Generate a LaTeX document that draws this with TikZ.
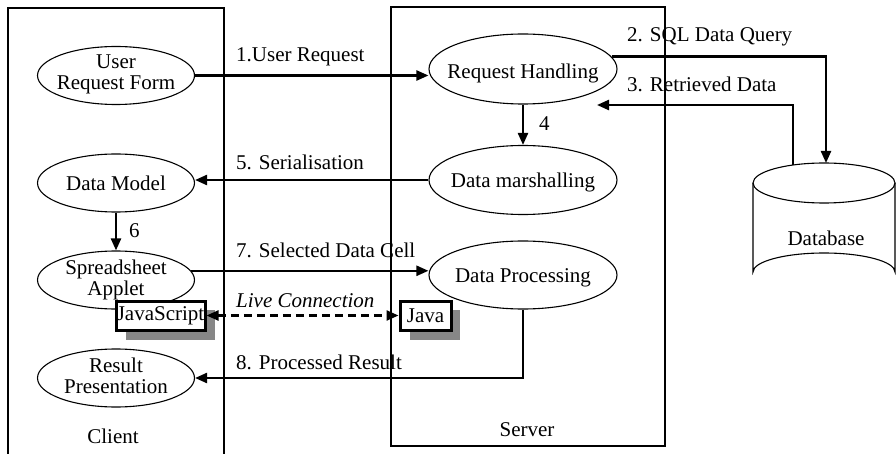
\documentclass[tikz,border=0pt]{standalone}
\usepackage{fontspec}
\setmainfont{Liberation Serif}
\usetikzlibrary{arrows.meta,shapes.geometric}
\definecolor{shadowgray}{HTML}{878787}
\begin{document}
\begin{tikzpicture}[x=1pt,y=-1pt,
  >={Triangle[length=12pt,width=10pt]},
  every node/.style={font=\fontsize{21}{20.5}\selectfont},
  proc/.style={ellipse,draw,line width=1.1pt,inner sep=0pt,minimum width=157pt,minimum height=58pt},
  sproc/.style={proc,minimum width=188pt,minimum height=69pt},
  txt/.style={align=center,inner sep=0pt},
  lbl/.style={anchor=base west,inner sep=0pt},
  flow/.style={line width=2.3pt,->},
  tech/.style={draw,fill=white,line width=3pt,inner sep=0pt,minimum height=29pt},
  frame/.style={line width=1.3pt}]
\useasboundingbox (0,0) rectangle (896,454);

% client and server frames
\draw[frame] (8,456) -- (8,8) -- (224,8) -- (224,456);
\draw[frame] (391,7) rectangle (665,446);
\node[anchor=base] (client) at (113,443) {Client};
\node[anchor=base] (server) at (527,436) {Server};

% client processes
\node[proc] (URF) at (116,75.5) {};
\node[txt] (URFt) at (116,74.5) {User\\Request Form};
\node[proc] (DM) at (116,183) {};
\node[txt] (DMt) at (116,183.5) {Data Model};
\node[proc] (SA) at (116,280) {};
\node[txt] (SAt) at (116,280) {Spreadsheet\\Applet};
\node[proc] (RP) at (116,378) {};
\node[txt] (RPt) at (116,376) {Result\\Presentation};

% server processes
\node[sproc,minimum height=70pt] (RH) at (523,69) {};
\node[txt] (RHt) at (523,73) {Request Handling};
\node[sproc] (DMar) at (523,180) {};
\node[txt] (DMart) at (523,182) {Data marshalling};
\node[sproc,minimum height=68pt] (DP) at (523,275) {};
\node[txt] (DPt) at (523,278) {Data Processing};

% database cylinder
\draw[line width=1.1pt] (824,183) ellipse[x radius=71,y radius=20];
\draw[line width=1.1pt] (753,183) -- (753,272) arc[start angle=180,end angle=360,x radius=71,y radius=19] -- (895,183);
\node[anchor=base] (DB) at (826,246) {Database};
\coordinate (DBin) at (826,163);
\coordinate (DBout) at (793,165);
\coordinate (RHin) at (597,105);

% JavaScript / Java bridge with offset shadows
\fill[shadowgray] (126,310) rectangle (215,340);
\fill[shadowgray] (410,310) rectangle (460,340);
\node[tech,minimum width=89pt] (JS) at (160.5,315.5) {JavaScript};
\node[tech,minimum width=51pt] (JV) at (425.5,315.5) {Java};

% data flows
\draw[flow] (URF.east) -- (URF.east -| RH.west);
\node[lbl] (l1) at (236,62) {1.User Request};
\draw[flow] (RH.8) -| (DBin);
\node[lbl] (l2) at (627,42) {2. SQL Data Query};
\draw[flow] (DBout) |- (RHin);
\node[lbl] (l3) at (627,92) {3. Retrieved Data};
\draw[flow] (RH.south) -- (DMar.north);
\node[lbl] (l4) at (539,131) {4};
\draw[flow] (DMar.west) -- (DMar.west -| DM.east);
\node[lbl] (l5) at (236,170) {5. Serialisation};
\draw[flow] (DM.south) -- (SA.north);
\node[lbl] (l6) at (129,238) {6};
\draw[flow] (SA.7) -- (SA.7 -| DP.west);
\node[lbl] (l7) at (236,258) {7. Selected Data Cell};
\draw[line width=2.3pt,dash pattern=on 8pt off 5pt,<->] (JS.east) -- (JV.west);
\node[lbl] (lc) at (236,307) {\itshape Live Connection};
\draw[flow] (DP.south) |- (RP.east);
\node[lbl] (l8) at (236,369) {8. Processed Result};
\end{tikzpicture}
\end{document}
